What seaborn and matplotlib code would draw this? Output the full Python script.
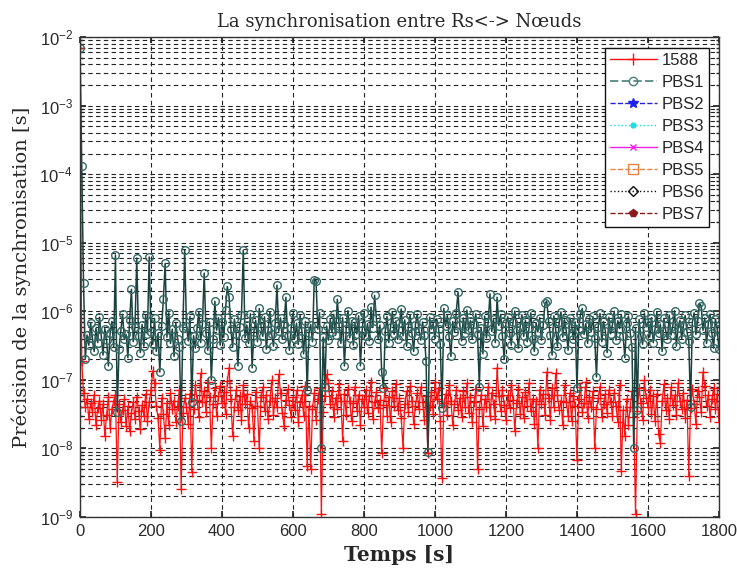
import numpy as np
import pandas as pd
import matplotlib
matplotlib.use("Agg")
import matplotlib.pyplot as plt
from matplotlib.lines import Line2D
from matplotlib.ticker import LogLocator, LogFormatterSciNotation, NullFormatter, MultipleLocator
import seaborn as sns

# temps en secondes, un point toutes les 5 s
temps = np.arange(0, 1801, 5)

# 1588 : valeurs en unites de 1e-8 s
v1588_e8 = [
    700000, 19, 6.5, 4.0, 5.3, 2.7, 4.6, 3.4, 6.1, 2.2, 3.9, 5.0, 2.6, 4.4, 1.5, 3.1, 5.6, 2.0, 3.7, 4.9,
    6.0, 0.32, 4.5, 2.4, 3.6, 5.3, 2.1, 4.1, 1.8, 3.3, 4.8, 2.7, 5.7, 3.5, 1.9, 4.3, 3.0, 6.2, 2.5, 4.7,
    7.0, 13.5, 9.0, 4.2, 2.8, 0.95, 5.5, 3.2, 1.4, 4.6, 2.2, 6.4, 3.8, 5.0, 2.4, 4.1, 7.2, 0.26, 3.3, 5.4,
    4.0, 2.3, 6.3, 0.46, 3.7, 8.4, 5.1, 2.9, 12.5, 4.8, 6.9, 3.4, 9.2, 5.6, 1.0, 4.4, 7.5, 3.0, 5.9, 8.1,
    4.6, 6.6, 3.2, 9.5, 15, 5.2, 1.5, 4.0, 7.1, 3.6, 5.8, 2.6, 8.3, 4.5, 6.2, 2.0, 5.0, 3.9, 1.3, 6.7,
    4.2, 1.0, 5.7, 7.8, 3.5, 6.0, 2.7, 4.9, 9.8, 3.1, 5.4, 4.0, 12, 6.5, 3.3, 2.1, 5.1, 7.3, 4.3, 2.9,
    5.6, 3.6, 7.0, 2.4, 4.7, 6.1, 3.0, 8.2, 0.56, 4.1, 0.5, 3.8, 6.4, 2.6, 5.2, 7.7, 0.11, 3.4, 5.9, 12,
    9.0, 4.4, 6.8, 2.9, 5.5, 3.7, 8.6, 4.9, 1.3, 6.3, 3.1, 7.4, 5.0, 2.5, 4.6, 8.0, 3.5, 6.1, 2.2, 5.3,
    4.0, 7.2, 3.3, 5.8, 9.4, 2.7, 4.8, 6.6, 3.9, 5.1, 0.85, 4.3, 7.6, 3.0, 5.7, 2.4, 6.9, 4.2, 8.8, 3.6,
    5.4, 2.8, 1.0, 4.5, 6.9, 3.4, 8.1, 5.0, 2.3, 4.2, 6.4, 3.7, 7.8, 4.8, 2.6, 5.9, 0.86, 4.1, 6.7, 3.2,
    9.2, 5.3, 7.6, 2.5, 0.37, 4.6, 6.2, 3.1, 8.4, 5.0, 2.2, 4.4, 7.0, 3.6, 5.5, 2.9, 6.8, 4.0, 8.9, 3.3,
    5.7, 2.4, 4.7, 7.3, 0.5, 3.8, 6.1, 2.1, 5.2, 4.0, 8.0, 3.0, 6.5, 4.5, 2.7, 15, 5.8, 3.5, 7.1, 4.3,
    2.6, 6.0, 3.9, 8.5, 5.1, 1.8, 4.6, 7.4, 3.2, 5.6, 2.8, 6.6, 4.2, 9.0, 3.5, 5.3, 2.3, 4.9, 1.0, 7.2,
    4.4, 6.3, 3.1, 13, 5.5, 2.6, 7.7, 4.0, 12.5, 6.0, 3.6, 5.0, 2.2, 8.3, 4.7, 3.0, 6.4, 2.5, 5.8, 4.1,
    0.68, 5.2, 7.9, 3.4, 4.6, 9.3, 2.8, 5.7, 4.0, 6.8, 1.0, 3.7, 5.5, 8.0, 2.9, 4.5, 6.2, 3.3, 7.1, 4.8,
    3.0, 6.5, 4.2, 2.4, 8.4, 0.47, 3.6, 1.5, 5.3, 2.2, 4.0, 6.9, 2.9, 0.11, 3.5, 7.5, 4.6, 2.6, 9.8, 5.4,
    4.0, 7.2, 3.2, 5.8, 2.5, 6.3, 1.6, 1.2, 4.9, 8.6, 3.6, 5.5, 2.7, 7.8, 4.3, 6.0, 3.1, 9.0, 5.0, 3.8,
    6.4, 2.8, 5.1, 0.4, 3.9, 7.3, 4.5, 2.3, 6.8, 5.6, 3.4, 13, 8.2, 4.1, 6.0, 2.9, 5.2, 7.6, 3.7, 6.2,
    2.4,
]

# PBS1 : valeurs en unites de 1e-7 s
pbs1_e7 = [
    70000, 1300, 26, 2.0, 4.5, 3.2, 6.8, 4.1, 2.6, 5.7, 3.5, 8.2, 4.4, 2.3, 5.6, 3.8, 1.6, 4.9, 7.1, 3.0,
    66, 0.34, 2.8, 5.2, 9.0, 3.9, 4.6, 2.1, 7.5, 21, 3.6, 5.9, 60, 4.3, 2.5, 6.4, 3.1, 8.8, 4.7, 62,
    5.0, 3.3, 7.9, 2.6, 4.8, 1.3, 6.1, 15, 50, 4.2, 9.5, 3.4, 5.5, 2.2, 6.7, 4.0, 3.0, 0.25, 5.8, 78,
    6.2, 3.7, 8.4, 0.47, 4.4, 2.9, 5.8, 9.8, 3.5, 6.6, 36, 4.9, 2.7, 7.0, 1.0, 3.9, 14, 5.3, 8.1, 3.2,
    6.9, 4.2, 10.5, 23, 16, 5.6, 3.0, 7.7, 4.6, 1.6, 5.9, 8.9, 78, 4.1, 6.3, 3.4, 9.2, 1.5, 5.0, 7.4,
    3.6, 11, 6.0, 4.3, 8.3, 2.8, 5.4, 9.9, 4.7, 3.1, 6.8, 24, 5.1, 8.0, 3.9, 6.5, 16, 4.4, 2.7, 5.7,
    9.3, 4.0, 6.7, 3.3, 8.7, 5.2, 2.4, 7.1, 0.7, 4.8, 6.4, 3.6, 29, 28, 5.5, 9.6, 0.1, 4.2, 0.8, 6.1,
    3.8, 7.6, 5.0, 9.0, 4.5, 15, 6.2, 3.4, 8.1, 1.6, 5.6, 10.2, 4.1, 7.3, 3.2, 6.9, 4.7, 8.6, 1.6, 5.3,
    9.4, 4.3, 6.6, 3.7, 11.5, 5.8, 17, 7.9, 4.0, 6.3, 1.3, 0.76, 5.1, 8.4, 3.5, 6.0, 9.7, 4.6, 7.2, 3.9,
    6.8, 10.8, 4.4, 7.5, 3.1, 5.9, 8.8, 4.9, 2.6, 6.4, 9.1, 5.2, 3.8, 7.0, 4.5, 1.9, 0.09, 8.2, 5.5, 6.6,
    4.0, 7.8, 5.6, 3.3, 0.39, 11, 6.1, 8.7, 4.2, 2.2, 7.1, 5.0, 9.6, 19, 6.3, 3.7, 8.0, 4.8, 10.4, 5.4,
    7.3, 3.9, 6.5, 9.2, 4.6, 0.8, 5.8, 2.4, 8.5, 4.1, 6.9, 18, 5.1, 7.6, 3.5, 16, 6.2, 9.0, 4.4, 2.0,
    6.7, 8.3, 4.9, 3.2, 7.0, 10.1, 5.3, 2.9, 6.0, 8.9, 4.3, 7.4, 3.6, 5.7, 9.5, 4.0, 2.6, 6.8, 5.0, 8.1,
    3.8, 6.3, 13, 14, 7.2, 4.5, 2.3, 8.6, 5.5, 3.1, 6.9, 9.8, 4.2, 7.5, 5.1, 2.7, 8.0, 6.2, 3.9, 7.0,
    0.76, 5.4, 9.1, 11, 4.6, 6.6, 3.4, 7.8, 5.0, 8.4, 4.1, 1.1, 6.0, 9.3, 3.6, 7.1, 5.2, 2.5, 8.2, 4.7,
    6.4, 10.0, 3.8, 7.3, 5.6, 9.0, 4.3, 2.1, 6.8, 8.5, 4.9, 3.0, 0.1, 5.7, 0.36, 7.6, 4.4, 3.3, 9.4, 5.9,
    7.0, 4.2, 8.1, 3.5, 5.5, 9.7, 4.8, 6.5, 2.6, 7.9, 5.2, 3.9, 8.8, 4.5, 6.1, 10.2, 3.1, 5.8, 7.4, 4.0,
    6.3, 8.7, 5.0, 3.7, 0.4, 6.9, 9.5, 4.6, 7.2, 13, 12, 5.3, 8.0, 3.4, 6.6, 9.1, 4.8, 2.9, 7.7, 5.6,
    2.8,
]

df = pd.DataFrame({
    "Temps": temps,
    "1588": np.array(v1588_e8) * 1e-8,
    "PBS1": np.array(pbs1_e7) * 1e-7,
})

sns.set_theme(style="white")
plt.rcParams["mathtext.default"] = "regular"

fig = plt.figure(figsize=(7.37, 5.74), dpi=100)
ax = fig.add_axes([0.1085, 0.0993, 0.867, 0.8362])

rouge = "#ff1010"
sarcelle = "#1a423f"

sns.lineplot(data=df, x="Temps", y="1588", ax=ax, color=rouge, lw=0.9,
             marker="+", markersize=7, markeredgewidth=1.0, markeredgecolor=rouge,
             estimator=None, legend=False)
sns.lineplot(data=df, x="Temps", y="PBS1", ax=ax, color=sarcelle, lw=1.1,
             marker="o", markersize=5.5, markerfacecolor="none", markeredgecolor="#35696500",
             estimator=None, legend=False)
ax.lines[-1].set_markeredgecolor("#356965")
ax.lines[-1].set_markeredgewidth(1.0)

ax.set_yscale("log")
ax.set_ylim(1e-9, 1e-2)
ax.set_xlim(0, 1800)
ax.xaxis.set_major_locator(MultipleLocator(200))
ax.yaxis.set_major_locator(LogLocator(base=10, numticks=10))
ax.yaxis.set_major_formatter(LogFormatterSciNotation())
ax.yaxis.set_minor_locator(LogLocator(base=10, subs=np.arange(2, 10), numticks=20))
ax.yaxis.set_minor_formatter(NullFormatter())

dash = (0, (4, 3))
ax.grid(True, which="major", axis="both", color="#222222", lw=0.8, linestyle=dash)
ax.grid(True, which="minor", axis="y", color="#222222", lw=0.8, linestyle=dash)

for s in ax.spines.values():
    s.set_color("#333333")
    s.set_linewidth(1.0)
ax.tick_params(axis="both", which="major", direction="in", length=4, labelsize=12,
               labelcolor="#2a2a2a", pad=5, left=True, bottom=True, top=True, right=True)
ax.tick_params(axis="y", which="minor", direction="in", length=2, left=True, right=True)
for lab in ax.get_xticklabels() + ax.get_yticklabels():
    lab.set_family("Liberation Sans")

ax.set_title("La synchronisation entre Rs<-> Nœuds", family="DejaVu Serif", fontsize=13, pad=7)
ax.set_xlabel("Temps [s]", family="DejaVu Serif", fontsize=14.5, fontweight="bold", labelpad=4)
ax.set_ylabel("Précision de la synchronisation [s]", family="DejaVu Serif", fontsize=14, labelpad=6)

handles = [
    Line2D([], [], color=rouge, lw=1, marker="+", markersize=8),
    Line2D([], [], color="#4a7f7a", lw=1.2, ls=(0, (5, 2)), marker="o", markersize=6, markerfacecolor="none"),
    Line2D([], [], color="#2020ee", lw=1, ls="--", marker="*", markersize=7),
    Line2D([], [], color="#22dddd", lw=1, ls=":", marker=".", markersize=7),
    Line2D([], [], color="#ee22ee", lw=1, ls="-", marker="x", markersize=4),
    Line2D([], [], color="#f08040", lw=1, ls="--", marker="s", markersize=7, markerfacecolor="none"),
    Line2D([], [], color="#111111", lw=1, ls=":", marker="D", markersize=5, markerfacecolor="none"),
    Line2D([], [], color="#8b1a1a", lw=1, ls="--", marker="p", markersize=6),
]
labels = ["1588", "PBS1", "PBS2", "PBS3", "PBS4", "PBS5", "PBS6", "PBS7"]
leg = ax.legend(handles, labels, loc="upper right", bbox_to_anchor=(0.985, 0.978),
                prop={"family": "Liberation Sans", "size": 12}, frameon=True, fancybox=False,
                edgecolor="#111111", framealpha=1, handlelength=2.8, handletextpad=0.3,
                labelspacing=0.42, borderpad=0.3, borderaxespad=0)
leg.get_frame().set_linewidth(1.0)

fig.savefig("out.png", dpi=100)
